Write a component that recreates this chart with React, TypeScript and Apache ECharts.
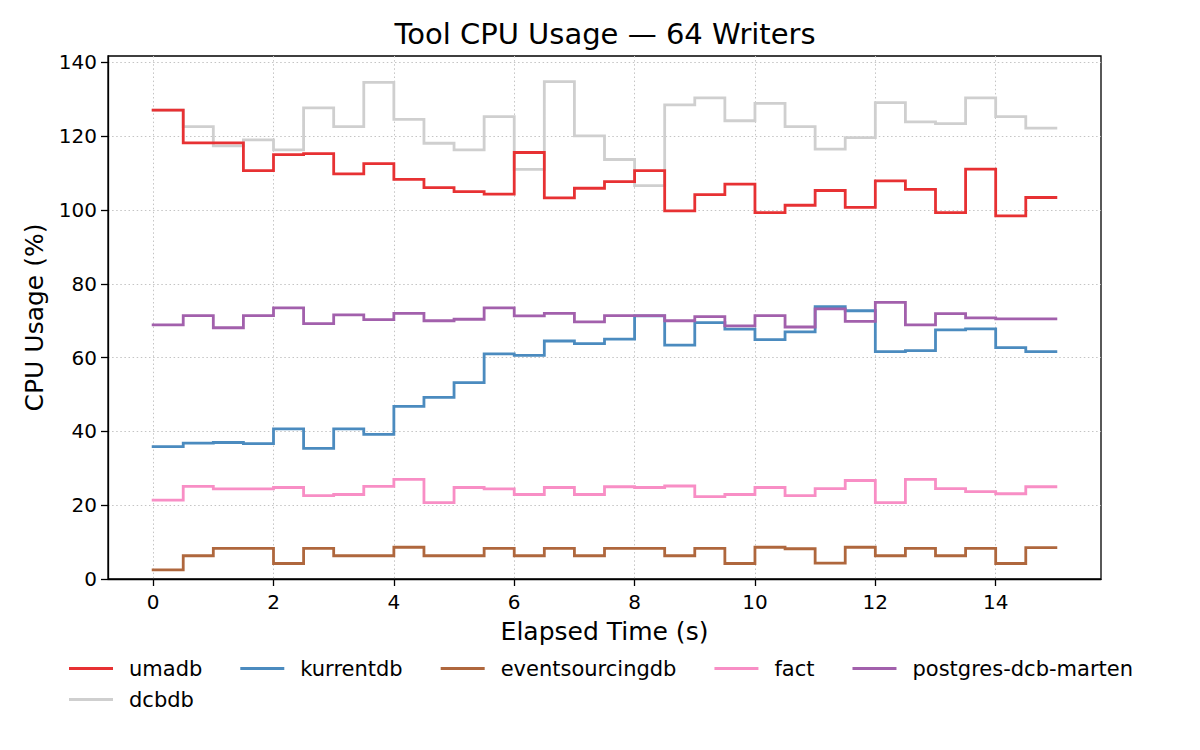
import React, { useEffect, useRef } from "react";
import * as echarts from "echarts";

const TIME = [0, 0.5, 1, 1.5, 2, 2.5, 3, 3.5, 4, 4.5, 5, 5.5, 6, 6.5, 7, 7.5, 8, 8.5, 9, 9.5, 10, 10.5, 11, 11.5, 12, 12.5, 13, 13.5, 14, 14.5, 15];

const UMADB = [127.1, 118.2, 118.2, 110.7, 115.0, 115.3, 109.8, 112.6, 108.3, 106.1, 105.0, 104.3, 115.6, 103.3, 105.9, 107.7, 110.7, 99.8, 104.2, 107.0, 99.3, 101.3, 105.3, 100.7, 107.9, 105.6, 99.3, 111.1, 98.4, 103.4, 103.4];
const KURRENTDB = [35.9, 36.8, 37.0, 36.7, 40.7, 35.4, 40.7, 39.2, 46.8, 49.2, 53.2, 61.0, 60.6, 64.5, 63.8, 65.0, 71.3, 63.4, 69.5, 67.7, 64.9, 67.0, 73.8, 72.7, 61.6, 61.9, 67.5, 67.8, 62.7, 61.6, 61.6];
const EVENTSOURCINGDB = [2.5, 6.3, 8.3, 8.3, 4.2, 8.3, 6.3, 6.3, 8.6, 6.3, 6.3, 8.3, 6.3, 8.3, 6.3, 8.3, 8.3, 6.3, 8.3, 4.2, 8.6, 8.2, 4.3, 8.6, 6.3, 8.3, 6.3, 8.3, 4.2, 8.5, 8.5];
const FACT = [21.4, 25.1, 24.4, 24.4, 24.8, 22.6, 22.9, 25.1, 27.0, 20.7, 24.8, 24.4, 22.9, 24.8, 22.9, 25.0, 24.8, 25.2, 22.3, 22.9, 24.8, 22.6, 24.5, 26.7, 20.7, 27.0, 24.5, 23.7, 23.1, 25.0, 25.0];
const POSTGRES_DCB_MARTEN = [68.9, 71.4, 68.1, 71.4, 73.5, 69.2, 71.6, 70.3, 72.0, 70.0, 70.4, 73.5, 71.3, 72.0, 69.7, 71.4, 71.4, 70.0, 71.1, 68.6, 71.4, 68.3, 73.2, 69.8, 75.0, 68.9, 71.9, 70.8, 70.5, 70.5, 70.5];
const DCBDB = [127.1, 122.6, 117.4, 119.0, 116.3, 127.7, 122.6, 134.6, 124.6, 118.1, 116.3, 125.3, 111.0, 134.8, 120.1, 113.7, 106.6, 128.5, 130.4, 124.2, 128.9, 122.6, 116.5, 119.6, 129.1, 123.9, 123.4, 130.4, 125.3, 122.2, 122.2];

const X_TICKS = [0, 2, 4, 6, 8, 10, 12, 14];
const Y_TICKS = [0, 20, 40, 60, 80, 100, 120, 140];

const LEGEND_ROW1 = ["umadb", "kurrentdb", "eventsourcingdb", "fact", "postgres-dcb-marten"];
const LEGEND_ROW2 = ["dcbdb"];

const FONT = "DejaVu Sans";

export default function App() {
  const ref = useRef<HTMLDivElement>(null);

  useEffect(() => {
    if (!ref.current) return;
    const chart = echarts.init(ref.current, null, { renderer: "svg" });

    const mk = (name: string, values: number[], color: string) => ({
      name,
      type: "line",
      step: "end",
      symbol: "none",
      showSymbol: false,
      data: TIME.map((t, i) => [t, values[i]]),
      lineStyle: { color, width: 2.8, cap: "square", join: "miter" },
      itemStyle: { color },
      emphasis: { disabled: true },
      silent: true,
    });

    const legendCommon = {
      orient: "horizontal",
      icon: "rect",
      itemWidth: 44,
      itemHeight: 3,
      itemGap: 38,
      padding: 0,
      selectedMode: false,
      textStyle: {
        fontFamily: FONT,
        fontSize: 21,
        color: "#000",
        padding: [0, 0, 0, 11],
      },
    };

    const axisText = { fontFamily: FONT, fontSize: 20, color: "#000" };
    const gridLine = { show: true, lineStyle: { color: "#c4c4c4", width: 1, type: [1.5, 2.6] } };

    chart.setOption({
      animation: false,
      backgroundColor: "#fff",
      textStyle: { fontFamily: FONT },
      title: {
        text: "Tool CPU Usage — 64 Writers",
        left: 600,
        top: 14,
        textAlign: "center",
        textStyle: { fontFamily: FONT, fontSize: 29, fontWeight: "normal", color: "#000" },
      },
      legend: [
        { ...legendCommon, data: LEGEND_ROW1, left: 69, top: 658 },
        { ...legendCommon, data: LEGEND_ROW2, left: 69, top: 689 },
      ],
      grid: {
        left: 108,
        top: 56,
        width: 993,
        height: 523,
        show: true,
        borderColor: "#000",
        borderWidth: 1.3,
        backgroundColor: "transparent",
        containLabel: false,
      },
      xAxis: {
        type: "value",
        min: -0.75,
        max: 15.75,
        name: "Elapsed Time (s)",
        nameLocation: "middle",
        nameGap: 40,
        nameTextStyle: { fontFamily: FONT, fontSize: 25, color: "#000" },
        axisLine: { show: true, onZero: false, lineStyle: { color: "#000", width: 1.3 } },
        axisTick: { show: true, length: 7, customValues: X_TICKS, lineStyle: { color: "#000", width: 1.3 } },
        axisLabel: { ...axisText, margin: 13, customValues: X_TICKS },
        splitLine: gridLine,
      },
      yAxis: {
        type: "value",
        min: 0,
        max: 141.75,
        name: "CPU Usage (%)",
        nameLocation: "middle",
        nameGap: 61,
        nameTextStyle: { fontFamily: FONT, fontSize: 25, color: "#000" },
        axisLine: { show: true, onZero: false, lineStyle: { color: "#000", width: 1.3 } },
        axisTick: { show: true, length: 7, customValues: Y_TICKS, lineStyle: { color: "#000", width: 1.3 } },
        axisLabel: { ...axisText, margin: 11, customValues: Y_TICKS },
        splitLine: gridLine,
      },
      series: [
        mk("dcbdb", DCBDB, "#cfcfcf"),
        mk("umadb", UMADB, "#e73133"),
        mk("kurrentdb", KURRENTDB, "#4b8bbf"),
        mk("eventsourcingdb", EVENTSOURCINGDB, "#af673d"),
        mk("fact", FACT, "#f88ec5"),
        mk("postgres-dcb-marten", POSTGRES_DCB_MARTEN, "#a260ac"),
      ],
    });

    return () => chart.dispose();
  }, []);

  return (
    <div
      ref={ref}
      style={{ position: "absolute", left: 0, top: 0, width: 1200, height: 750, background: "#fff" }}
    />
  );
}
